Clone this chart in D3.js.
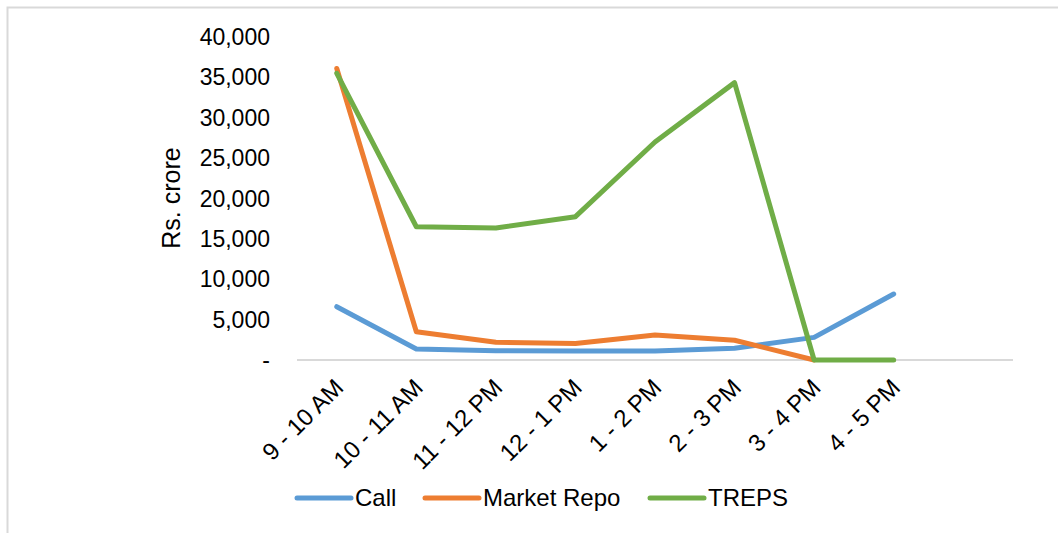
<!DOCTYPE html>
<html>
<head>
<meta charset="utf-8">
<script src="https://cdn.jsdelivr.net/npm/d3@7"></script>
<style>
  body { margin: 0; background: #fff; }
  svg { display: block; font-family: "Liberation Sans", Arial, sans-serif; }
</style>
</head>
<body>
<svg width="1058" height="533"></svg>
<script>
// data (Rs. crore)
var slots = ['9 - 10 AM', '10 - 11 AM', '11 - 12 PM', '12 - 1 PM', '1 - 2 PM', '2 - 3 PM', '3 - 4 PM', '4 - 5 PM', ''];
var call = [6600, 1360, 1150, 1100, 1100, 1450, 2800, 8170];
var marketRepo = [36100, 3500, 2200, 2050, 3100, 2450, 0];
var treps = [35500, 16500, 16350, 17750, 27000, 34350, 0, 0];
var seriesNames = ['Call', 'Market Repo', 'TREPS'];
var colors = ['#5b9bd5', '#ed7d31', '#70ad47'];
var yTicks = [0, 5000, 10000, 15000, 20000, 25000, 30000, 35000, 40000];

var svg = d3.select('svg');

// chart border (cut by the picture on the right and bottom)
svg.append('rect')
  .attr('x', 7.5).attr('y', 7.5)
  .attr('width', 1058).attr('height', 540)
  .attr('fill', 'none')
  .attr('stroke', '#d9d9d9')
  .attr('stroke-width', 2);

var x = d3.scaleBand().domain(slots.map((d, i) => i)).range([297, 1013]);
var y = d3.scaleLinear().domain([0, 40000]).range([360, 37]);

// y tick labels
var fmt = d3.format(',');
svg.append('g').selectAll('text')
  .data(yTicks)
  .enter()
  .append('text')
  .attr('x', 270)
  .attr('y', d => y(d))
  .attr('dy', '0.35em')
  .attr('text-anchor', 'end')
  .attr('font-size', 23)
  .attr('fill', '#000')
  .text(d => d === 0 ? '-' : fmt(d));

// y title
svg.append('text')
  .attr('transform', 'translate(180,198) rotate(-90)')
  .attr('text-anchor', 'middle')
  .attr('font-size', 25)
  .text('Rs. crore');

// x axis line
svg.append('line')
  .attr('x1', 297).attr('x2', 1013)
  .attr('y1', y(0)).attr('y2', y(0))
  .attr('stroke', '#d9d9d9')
  .attr('stroke-width', 2);

// x labels
svg.append('g').selectAll('text')
  .data(slots)
  .enter()
  .append('text')
  .attr('transform', (d, i) => 'translate(' + (x(i) + x.bandwidth() / 2 + 8) + ',389) rotate(-45)')
  .attr('text-anchor', 'end')
  .attr('font-size', 24)
  .text(d => d);

// lines
var line = d3.line()
  .x((d, i) => x(i) + x.bandwidth() / 2)
  .y(d => y(d));

var allSeries = [call, marketRepo, treps];
svg.append('g').selectAll('path')
  .data(allSeries)
  .enter()
  .append('path')
  .attr('d', d => line(d))
  .attr('fill', 'none')
  .attr('stroke', (d, i) => colors[i])
  .attr('stroke-width', 5)
  .attr('stroke-linejoin', 'round')
  .attr('stroke-linecap', 'round');

// legend
var legendX = [297, 425, 650];
var legend = svg.append('g').selectAll('g')
  .data(seriesNames)
  .enter()
  .append('g')
  .attr('transform', (d, i) => 'translate(' + legendX[i] + ',498)');
legend.append('line')
  .attr('x1', 0).attr('x2', 54)
  .attr('stroke', (d, i) => colors[i])
  .attr('stroke-width', 5)
  .attr('stroke-linecap', 'round');
legend.append('text')
  .attr('x', 58)
  .attr('dy', '0.35em')
  .attr('font-size', 24)
  .text(d => d);
</script>
</body>
</html>
